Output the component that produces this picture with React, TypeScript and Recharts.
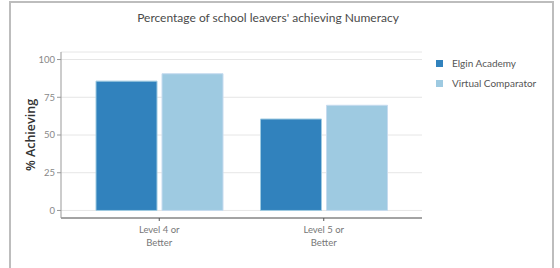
import React from 'react';
import { BarChart, Bar, XAxis, YAxis, CartesianGrid, Legend } from 'recharts';

const categories = ['Level 4 or Better', 'Level 5 or Better'];
const elginAcademy = [85.7, 60.6];
const virtualComparator = [90.6, 69.7];
const yTicks = [0, 25, 50, 75, 100];

const data = categories.map((c, i) => ({
  name: c,
  elgin: elginAcademy[i],
  virtual: virtualComparator[i],
}));

const FONT = 'Lato, "Open Sans", sans-serif';

const XTick = (props: any) => {
  const { x, y, payload } = props;
  const words = String(payload.value).split(' ');
  const lines = [words.slice(0, -1).join(' '), words[words.length - 1]];
  return (
    <text x={x} y={y} textAnchor="middle" fill="#777" fontSize={9.5} fontFamily={FONT}>
      {lines.map((l, i) => (
        <tspan key={i} x={x} dy={i === 0 ? 10 : 12.5}>{l}</tspan>
      ))}
    </text>
  );
};

const LegendBox = () => (
  <div style={{ fontFamily: FONT, fontSize: 10, color: '#555' }}>
    {[
      { label: 'Elgin Academy', color: '#3182bd' },
      { label: 'Virtual Comparator', color: '#9ecae1' },
    ].map((it) => (
      <div key={it.label} style={{ display: 'flex', alignItems: 'center', height: 20 }}>
        <span style={{ width: 7, height: 7, background: it.color, marginRight: 9 }} />
        {it.label}
      </div>
    ))}
  </div>
);

const YLabel = (props: any) => {
  const { viewBox } = props;
  const cy = viewBox.y + viewBox.height / 2;
  return (
    <text x={30} y={cy} transform={`rotate(-90, 30, ${cy})`} textAnchor="middle" dominantBaseline="central"
      fontSize={12.5} fontFamily='"Open Sans", sans-serif' fill="#333" fontWeight={600}>
      % Achieving
    </text>
  );
};

export default function App() {
  return (
    <div style={{ position: 'absolute', left: 0, top: 0, width: 560, height: 268, overflow: 'hidden', background: '#fff' }}>
      <div style={{ position: 'absolute', left: 9, top: 1, width: 545, height: 300, border: '2px solid #bdbdbd', boxSizing: 'border-box' }} />
      <div style={{ position: 'absolute', left: 0, top: 10, width: 560, textAlign: 'center', fontFamily: FONT, fontSize: 12, color: '#4a4a4a' }}>
        <span style={{ position: 'relative', left: -12 }}>Percentage of school leavers' achieving Numeracy</span>
      </div>
      <div style={{ position: 'absolute', left: 0, top: 0 }}>
        <BarChart width={560} height={268} data={data} margin={{ top: 52, right: 18, bottom: 0, left: 0 }}
          barGap={5} barCategoryGap={19}>
          <CartesianGrid vertical={false} stroke="#e6e6e6" />
          <XAxis dataKey="name" height={50} padding={{ left: 16, right: 16 }} stroke="#555"
            tickSize={3} tick={<XTick />} interval={0} />
          <YAxis width={61} domain={[-5, 105]} ticks={yTicks} stroke="#999" tickSize={4}
            tick={{ fill: '#888', fontSize: 9.5, fontFamily: FONT }} label={<YLabel />} />
          <Legend layout="vertical" verticalAlign="top" align="right" content={<LegendBox />}
            wrapperStyle={{ left: 436, top: 53, width: 120 }} />
          <Bar dataKey="elgin" name="Elgin Academy" fill="#3182bd" stroke="#9ecae1" strokeWidth={1} isAnimationActive={false} />
          <Bar dataKey="virtual" name="Virtual Comparator" fill="#9ecae1" stroke="#c6dbef" strokeWidth={1} isAnimationActive={false} />
        </BarChart>
      </div>
    </div>
  );
}
